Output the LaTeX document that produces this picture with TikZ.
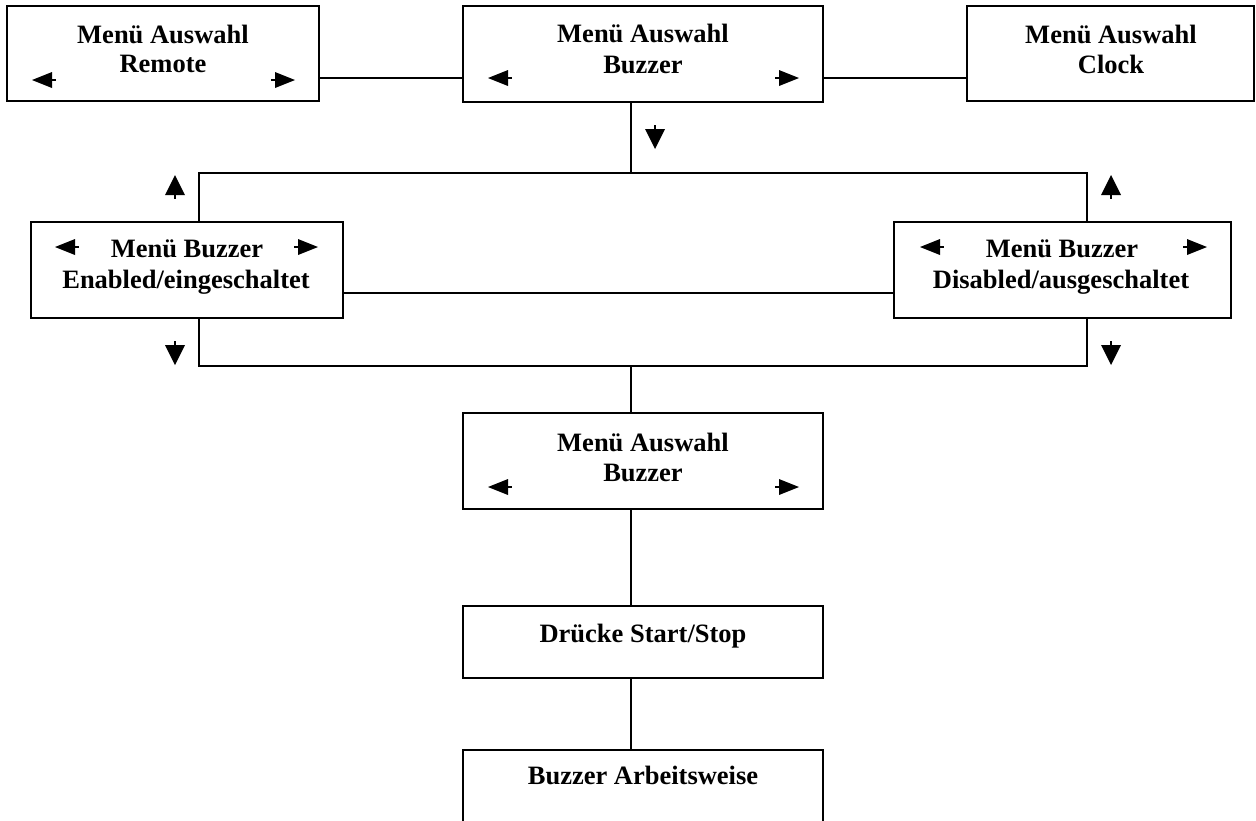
\documentclass[tikz,border=0pt]{standalone}
\usepackage{fontspec}
\setmainfont{Liberation Serif}
\begin{document}
\begin{tikzpicture}[x=1pt,y=-1pt,
  box/.style={draw, line width=2pt, inner sep=0pt},
  wire/.style={line width=2pt},
  lbl/.style={font=\bfseries\fontsize{26.5}{30}\selectfont, inner sep=0pt, anchor=base},
  larrow/.pic={\fill (0,0) -- (20,-8) -- (20,8) -- cycle; \draw[line width=2pt] (19,0) -- (24,0);},
  rarrow/.pic={\fill (0,0) -- (-20,-8) -- (-20,8) -- cycle; \draw[line width=2pt] (-19,0) -- (-24,0);},
  uarrow/.pic={\fill (0,0) -- (-10,20) -- (10,20) -- cycle; \draw[line width=2pt] (0,19) -- (0,24);},
  darrow/.pic={\fill (0,0) -- (-10,-20) -- (10,-20) -- cycle; \draw[line width=2pt] (0,-19) -- (0,-24);}
]
\useasboundingbox (0,0) rectangle (1256,820);
\clip (0,0) rectangle (1256,820);

% menu boxes
\node[box, minimum width=312pt, minimum height=95pt] (remote) at (163,53.5) {};
\node[box, minimum width=360pt, minimum height=96pt] (buzz1)  at (643,54) {};
\node[box, minimum width=287pt, minimum height=95pt] (clock)  at (1110.5,53.5) {};
\node[box, minimum width=312pt, minimum height=96pt] (enab)   at (187,270) {};
\node[box, minimum width=337pt, minimum height=96pt] (disab)  at (1062.5,270) {};
\node[box, minimum width=360pt, minimum height=96pt] (buzz2)  at (643,461) {};
\node[box, minimum width=360pt, minimum height=72pt] (press)  at (643,642) {};
\node[box, minimum width=360pt, minimum height=120pt] (mode)  at (643,810) {};

% labels
\node[lbl] (remoteA) at (163,43) {Menü Auswahl};
\node[lbl] (remoteB) at (163,72) {Remote};
\node[lbl] (buzz1A) at (643,42) {Menü Auswahl};
\node[lbl] (buzz1B) at (643,73) {Buzzer};
\node[lbl] (clockA) at (1111,43) {Menü Auswahl};
\node[lbl] (clockB) at (1111,73) {Clock};
\node[lbl] (enabA) at (187,257) {Menü Buzzer};
\node[lbl] (enabB) at (186,288) {Enabled/eingeschaltet};
\node[lbl] (disabA) at (1062,257) {Menü Buzzer};
\node[lbl] (disabB) at (1061,288) {Disabled/ausgeschaltet};
\node[lbl] (buzz2A) at (643,451) {Menü Auswahl};
\node[lbl] (buzz2B) at (643,481) {Buzzer};
\node[lbl] (pressA) at (643,642) {Drücke Start/Stop};
\node[lbl] (modeA) at (643,784) {Buzzer Arbeitsweise};

% junction points of the connector grid
\coordinate (tl) at (199,173);
\coordinate (tc) at (631,173);
\coordinate (tr) at (1087,173);
\coordinate (bl) at (199,366);
\coordinate (bc) at (631,366);
\coordinate (br) at (1087,366);

% connectors
\draw[wire] ([yshift=-24.5pt]remote.east) -- ([yshift=-24pt]buzz1.west);
\draw[wire] ([yshift=-24pt]buzz1.east) -- ([yshift=-24.5pt]clock.west);
\draw[wire] (tc |- buzz1.south) -- (tc);
\draw[wire] (tl |- enab.north) -- (tl) -- (tr) -- (tr |- disab.north);
\draw[wire] ([yshift=-23pt]enab.east) -- ([yshift=-23pt]disab.west);
\draw[wire] (bl |- enab.south) -- (bl) -- (br) -- (br |- disab.south);
\draw[wire] (bc) -- (bc |- buzz2.north);
\draw[wire] (bc |- buzz2.south) -- (bc |- press.north);
\draw[wire] (bc |- press.south) -- (bc |- mode.north);

% navigation arrows
\pic at (32,80) {larrow};
\pic at (295,80) {rarrow};
\pic at (488,78) {larrow};
\pic at (799,78) {rarrow};
\pic at (655,149) {darrow};
\pic at (175,175) {uarrow};
\pic at (1111,175) {uarrow};
\pic at (55,247) {larrow};
\pic at (318,247) {rarrow};
\pic at (920,247) {larrow};
\pic at (1207,247) {rarrow};
\pic at (175,365) {darrow};
\pic at (1111,365) {darrow};
\pic at (488,487) {larrow};
\pic at (799,487) {rarrow};
\end{tikzpicture}
\end{document}
